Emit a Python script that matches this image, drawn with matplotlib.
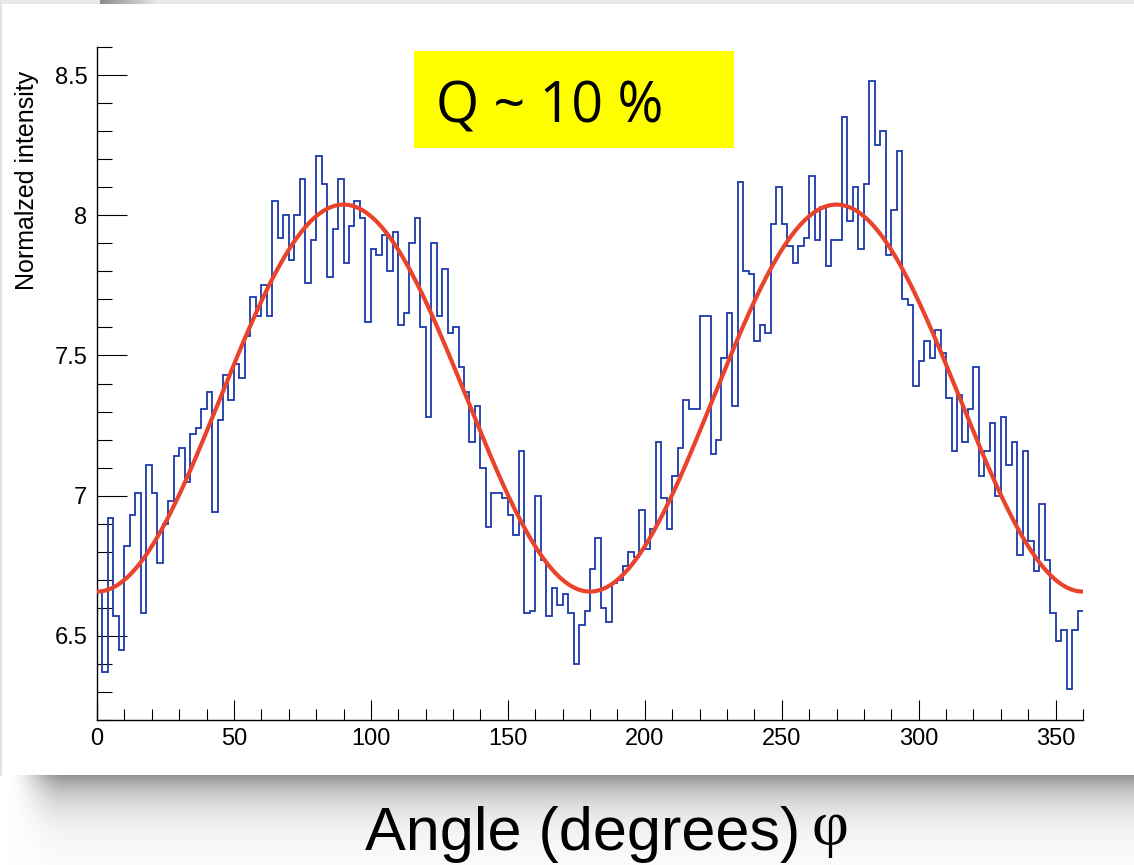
#!/usr/bin/env python3
"""Azimuthal intensity histogram with cos(2phi) fit, slide-style layout."""

import numpy as np
import matplotlib

matplotlib.use("Agg")
import matplotlib.pyplot as plt  # noqa: E402
from matplotlib.patches import Rectangle  # noqa: E402
from matplotlib.ticker import MultipleLocator  # noqa: E402

W, H = 1134, 865

# 2-degree bins, 0..360
bin_width_deg = 2
intensity = [
    6.66, 6.37, 6.92, 6.57, 6.45, 6.82, 6.93, 7.01, 6.58, 7.11,
    7.01, 6.76, 6.90, 6.98, 7.14, 7.17, 7.05, 7.22, 7.24, 7.31,
    7.37, 6.94, 7.27, 7.43, 7.34, 7.47, 7.42, 7.57, 7.71, 7.64,
    7.75, 7.64, 8.05, 7.92, 8.00, 7.84, 8.00, 8.13, 7.76, 7.91,
    8.21, 8.11, 7.78, 7.95, 8.13, 7.83, 7.96, 8.05, 7.99, 7.62,
    7.88, 7.86, 7.93, 7.80, 7.94, 7.61, 7.65, 7.90, 7.99, 7.60,
    7.28, 7.90, 7.64, 7.81, 7.58, 7.60, 7.46, 7.37, 7.19, 7.32,
    7.10, 6.89, 7.01, 7.01, 6.99, 6.93, 6.86, 7.16, 6.58, 6.59,
    7.00, 6.77, 6.57, 6.67, 6.61, 6.65, 6.58, 6.40, 6.54, 6.59,
    6.74, 6.85, 6.60, 6.55, 6.69, 6.70, 6.75, 6.80, 6.78, 6.95,
    6.81, 6.88, 7.19, 6.99, 6.88, 7.07, 7.17, 7.34, 7.31, 7.31,
    7.64, 7.64, 7.15, 7.20, 7.49, 7.65, 7.32, 8.12, 7.80, 7.79,
    7.55, 7.61, 7.58, 7.97, 8.10, 7.97, 7.89, 7.83, 7.89, 7.92,
    8.14, 7.91, 8.03, 7.82, 7.91, 7.91, 8.35, 7.98, 8.10, 7.88,
    8.11, 8.48, 8.25, 8.30, 7.86, 8.02, 8.23, 7.70, 7.68, 7.39,
    7.48, 7.55, 7.49, 7.59, 7.51, 7.35, 7.16, 7.36, 7.19, 7.31,
    7.46, 7.07, 7.16, 7.26, 7.00, 7.28, 7.11, 7.19, 6.79, 7.16,
    6.84, 6.73, 6.97, 6.77, 6.58, 6.48, 6.52, 6.31, 6.52, 6.59,
]

# fit: p0 - p1 * cos(2 phi)
fit_p0 = 7.348
fit_p1 = 0.690

x_ticks = [0, 50, 100, 150, 200, 250, 300, 350]
y_ticks = [6.5, 7.0, 7.5, 8.0, 8.5]
y_tick_labels = ["6.5", "7", "7.5", "8", "8.5"]

title_text = "Q ~ 10 %"
y_title = "Normalzed intensity"
x_title = "Angle (degrees)"
x_title_symbol = "\u03c6"

HIST_COLOR = "#1c3aa9"
FIT_COLOR = "#e9442b"
SANS = ["Liberation Sans", "DejaVu Sans"]

fig = plt.figure(figsize=(W / 100, H / 100), dpi=100, facecolor="white")

# --- slide background (pixel coordinates) ---
bg = fig.add_axes([0, 0, 1, 1], zorder=0)
bg.set_xlim(0, W)
bg.set_ylim(H, 0)
bg.axis("off")

shadow_top, shadow_bot = 775, H
ys = np.arange(shadow_top, shadow_bot)[:, None]
xs = np.arange(W)[None, :]
depth = 0.42 * np.exp(-(ys - shadow_top) / 26.0)
fade = np.clip((xs - 8) / 55.0, 0, 1)
fade = fade * fade * (3 - 2 * fade)
gray = 1 - depth * fade
rgb = np.dstack([gray, gray, gray])
bg.imshow(rgb, extent=(0, W, shadow_bot, shadow_top), aspect="auto",
          interpolation="bilinear", zorder=1)
bg.add_patch(Rectangle((0, 0), W, 4, facecolor="#e9e9e9", edgecolor="none", zorder=2))
top_grad = np.linspace(0.55, 0.92, 60)[None, :]
bg.imshow(np.dstack([top_grad, top_grad, top_grad]), extent=(100, 160, 4, 0),
          aspect="auto", zorder=3)
bg.plot([0.6, 0.6], [4, shadow_top], color="#dcdcdc", lw=1.2, zorder=3)
bg.set_xlim(0, W)
bg.set_ylim(H, 0)

# --- main plot ---
ax = fig.add_axes([97 / W, 1 - 720 / H, (1083 - 97) / W, (720 - 47) / H], zorder=2)
ax.patch.set_alpha(0)

edges = np.arange(0, 360 + bin_width_deg, bin_width_deg)
ax.stairs(intensity, edges, baseline=None, color=HIST_COLOR, lw=1.3, zorder=2)

phi = np.linspace(0, 360, 721)
fit = fit_p0 - fit_p1 * np.cos(np.radians(2 * phi))
ax.plot(phi, fit, color=FIT_COLOR, lw=3.0, zorder=3, solid_capstyle="butt")

ax.set_xlim(0, 360)
ax.set_ylim(6.2, 8.6)
ax.set_xticks(x_ticks)
ax.set_xticklabels([str(t) for t in x_ticks])
ax.set_yticks(y_ticks)
ax.set_yticklabels(y_tick_labels)
ax.xaxis.set_minor_locator(MultipleLocator(10))
ax.yaxis.set_minor_locator(MultipleLocator(0.1))
for side in ("top", "right"):
    ax.spines[side].set_visible(False)
for side in ("left", "bottom"):
    ax.spines[side].set_linewidth(1.0)
ax.tick_params(axis="x", which="major", direction="in", length=14.5, width=0.8, pad=6)
ax.tick_params(axis="x", which="minor", direction="in", length=8, width=0.8)
ax.tick_params(axis="y", which="major", direction="in", length=21.5, width=0.8, pad=7)
ax.tick_params(axis="y", which="minor", direction="in", length=11, width=0.8)
for lab in ax.get_xticklabels() + ax.get_yticklabels():
    lab.set_family(SANS)
    lab.set_fontsize(17)

# --- overlay: title box and axis titles ---
ov = fig.add_axes([0, 0, 1, 1], zorder=5)
ov.set_xlim(0, W)
ov.set_ylim(H, 0)
ov.axis("off")
ov.patch.set_alpha(0)

ov.add_patch(Rectangle((414, 51), 320, 97, facecolor="#ffff00", edgecolor="none"))
ov.text(436, 123, title_text, family=["Open Sans", "DejaVu Sans"], fontsize=40,
        ha="left", va="baseline", color="black")

ov.text(27, 180, y_title, family=SANS, fontsize=18, rotation=90,
        ha="center", va="center", color="black")

ov.text(365, 850, x_title, family=SANS, fontsize=44, ha="left", va="baseline",
        color="black")
ov.text(830, 829, x_title_symbol, family=["Liberation Serif", "DejaVu Serif"],
        fontsize=46, ha="center", va="center", color="black")

fig.savefig("out.png", dpi=100, facecolor="white")
plt.close(fig)
